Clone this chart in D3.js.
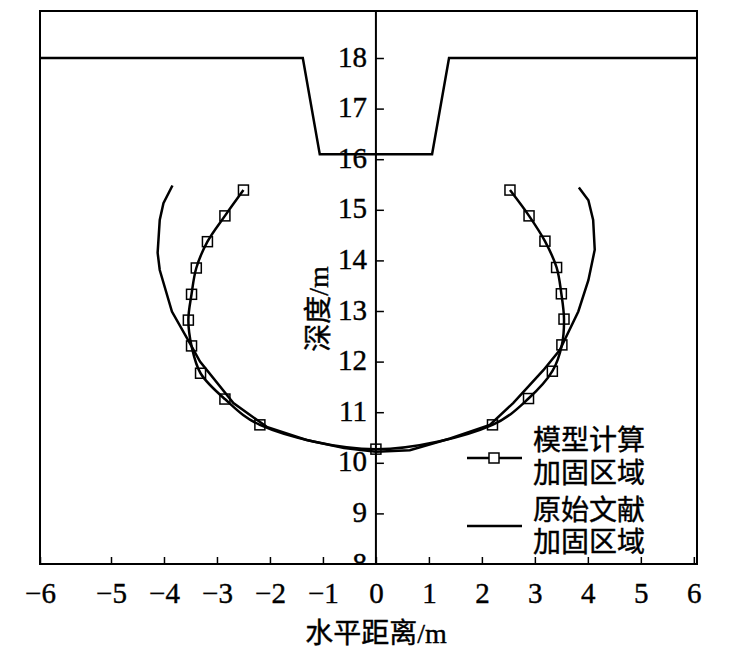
<!DOCTYPE html>
<html>
<head>
<meta charset="utf-8">
<script src="https://cdn.jsdelivr.net/npm/d3@7"></script>
<style>
  body { margin: 0; background: #fff; }
  text { font-family: "Liberation Serif", "Noto Sans CJK SC", serif; fill: #000; stroke: #000; stroke-width: 0.4px; }
</style>
</head>
<body>
<script>
// tick values
const xTicks = [-6, -5, -4, -3, -2, -1, 0, 1, 2, 3, 4, 5, 6];
const yTicks = [8, 9, 10, 11, 12, 13, 14, 15, 16, 17, 18];

// excavation outline (ground surface + pit)
const pitX = [-6, -1.38, -1.06, 1.06, 1.38, 6.06];
const pitY = [18, 18, 16.1, 16.1, 18, 18];

// 模型计算 加固区域 (square markers)
const modelX = [-2.50, -2.85, -3.18, -3.39, -3.48, -3.54, -3.48, -3.31, -2.85, -2.19, 0,
                2.20, 2.88, 3.33, 3.51, 3.55, 3.50, 3.41, 3.19, 2.89, 2.53];
const modelY = [15.39, 14.88, 14.37, 13.85, 13.33, 12.82, 12.31, 11.77, 11.26, 10.75, 10.27,
                10.75, 11.27, 11.81, 12.33, 12.84, 13.34, 13.86, 14.38, 14.88, 15.39];

// 原始文献 加固区域 (plain line)
const litX = [-3.84, -4.01, -4.08, -4.12, -4.08, -3.85, -3.51, -3.32, -2.69, -2.06, -1.31, -0.6, 0,
              0.64, 1.40, 2.15, 2.59, 3.16, 3.47, 3.82, 4.01, 4.13, 4.10, 4.01, 3.83];
const litY = [15.48, 15.13, 14.80, 14.15, 13.81, 12.99, 12.36, 12.00, 11.18, 10.71, 10.45, 10.29, 10.22,
              10.25, 10.48, 10.75, 11.18, 11.83, 12.23, 12.99, 13.61, 14.21, 14.80, 15.19, 15.44];

const W = 747, H = 667;
const pl = 40, pr = 697, pt = 11, pb = 564;

const svg = d3.select("body").append("svg")
    .attr("width", W)
    .attr("height", H);

const x = d3.scaleLinear().domain([-6, -5, 6.06]).range([pl, 111, pr]);
const y = d3.scaleLinear().domain([8, 18]).range([pb, 58]);

svg.append("defs").append("clipPath").attr("id", "plotclip")
  .append("rect")
    .attr("x", pl).attr("y", pt)
    .attr("width", pr - pl).attr("height", pb - pt);

// frame
svg.append("rect")
    .attr("x", pl).attr("y", pt)
    .attr("width", pr - pl).attr("height", pb - pt)
    .attr("fill", "none")
    .attr("stroke", "#000")
    .attr("stroke-width", 2);

// x axis, ticks point up into the plot
const xAxis = svg.append("g")
    .attr("transform", `translate(0,${pb})`)
    .call(d3.axisBottom(x).tickValues(xTicks).tickSizeInner(-7).tickSizeOuter(0)
      .tickFormat(d => d < 0 ? "\u2212" + Math.abs(d) : d));
xAxis.select(".domain").remove();
xAxis.selectAll("line").attr("stroke", "#000").attr("stroke-width", 1.5);
xAxis.selectAll("text")
    .attr("y", 29)
    .attr("dy", "0.35em")
    .style("font-size", "29px")
    .style("font-family", "Liberation Serif");

// y axis along x = 0, ticks to the right, labels to the left (clipped to the frame)
const yClip = svg.append("g").attr("clip-path", "url(#plotclip)");
const yAxis = yClip.append("g")
    .attr("transform", `translate(${x(0)},0)`)
    .call(d3.axisLeft(y).tickValues(yTicks).tickSize(0).tickPadding(9));
yAxis.select(".domain").remove();
yAxis.selectAll("text")
    .attr("dy", "0.28em")
    .style("font-size", "29px")
    .style("font-family", "Liberation Serif");
yAxis.selectAll(".tick").append("line")
    .attr("x1", 0).attr("x2", 8)
    .attr("stroke", "#000").attr("stroke-width", 1.5);
yAxis.append("line")
    .attr("x1", 0).attr("x2", 0)
    .attr("y1", pt).attr("y2", pb)
    .attr("stroke", "#000").attr("stroke-width", 2);

const plot = svg.append("g").attr("clip-path", "url(#plotclip)");

const line = d3.line().x(d => x(d[0])).y(d => y(d[1]));

plot.append("path")
    .datum(d3.zip(pitX, pitY))
    .attr("d", line)
    .attr("fill", "none").attr("stroke", "#000").attr("stroke-width", 2.5);

plot.append("path")
    .datum(d3.zip(litX, litY))
    .attr("d", line)
    .attr("fill", "none").attr("stroke", "#000").attr("stroke-width", 2.5);

const model = d3.zip(modelX, modelY);
plot.append("path")
    .datum(model)
    .attr("d", line.curve(d3.curveCatmullRom.alpha(0.5)))
    .attr("fill", "none").attr("stroke", "#000").attr("stroke-width", 2.5);

plot.selectAll(".sq")
    .data(model)
  .enter().append("rect")
    .attr("x", d => x(d[0]) - 5)
    .attr("y", d => y(d[1]) - 5)
    .attr("width", 10).attr("height", 10)
    .attr("fill", "none").attr("stroke", "#000").attr("stroke-width", 1.5);

// axis titles
svg.append("text")
    .attr("x", x(0)).attr("y", 643)
    .attr("text-anchor", "middle")
    .style("font-size", "28px")
    .text("水平距离/m");

svg.append("text")
    .attr("transform", `translate(328,309) rotate(-90)`)
    .attr("text-anchor", "middle")
    .style("font-size", "28px")
    .text("深度/m");

// legend
const legend = svg.append("g");
legend.append("line")
    .attr("x1", 467).attr("x2", 522).attr("y1", 458).attr("y2", 458)
    .attr("stroke", "#000").attr("stroke-width", 2.5);
legend.append("rect")
    .attr("x", 489).attr("y", 453).attr("width", 10).attr("height", 10)
    .attr("fill", "#fff").attr("stroke", "#000").attr("stroke-width", 1.5);
legend.append("line")
    .attr("x1", 467).attr("x2", 522).attr("y1", 526).attr("y2", 526)
    .attr("stroke", "#000").attr("stroke-width", 2.5);

const legendText = [["模型计算", 440], ["加固区域", 473], ["原始文献", 510], ["加固区域", 542]];
legend.selectAll(".lt")
    .data(legendText)
  .enter().append("text")
    .attr("x", 533)
    .attr("y", d => d[1])
    .attr("dy", "0.36em")
    .style("font-size", "28px")
    .text(d => d[0]);
</script>
</body>
</html>
